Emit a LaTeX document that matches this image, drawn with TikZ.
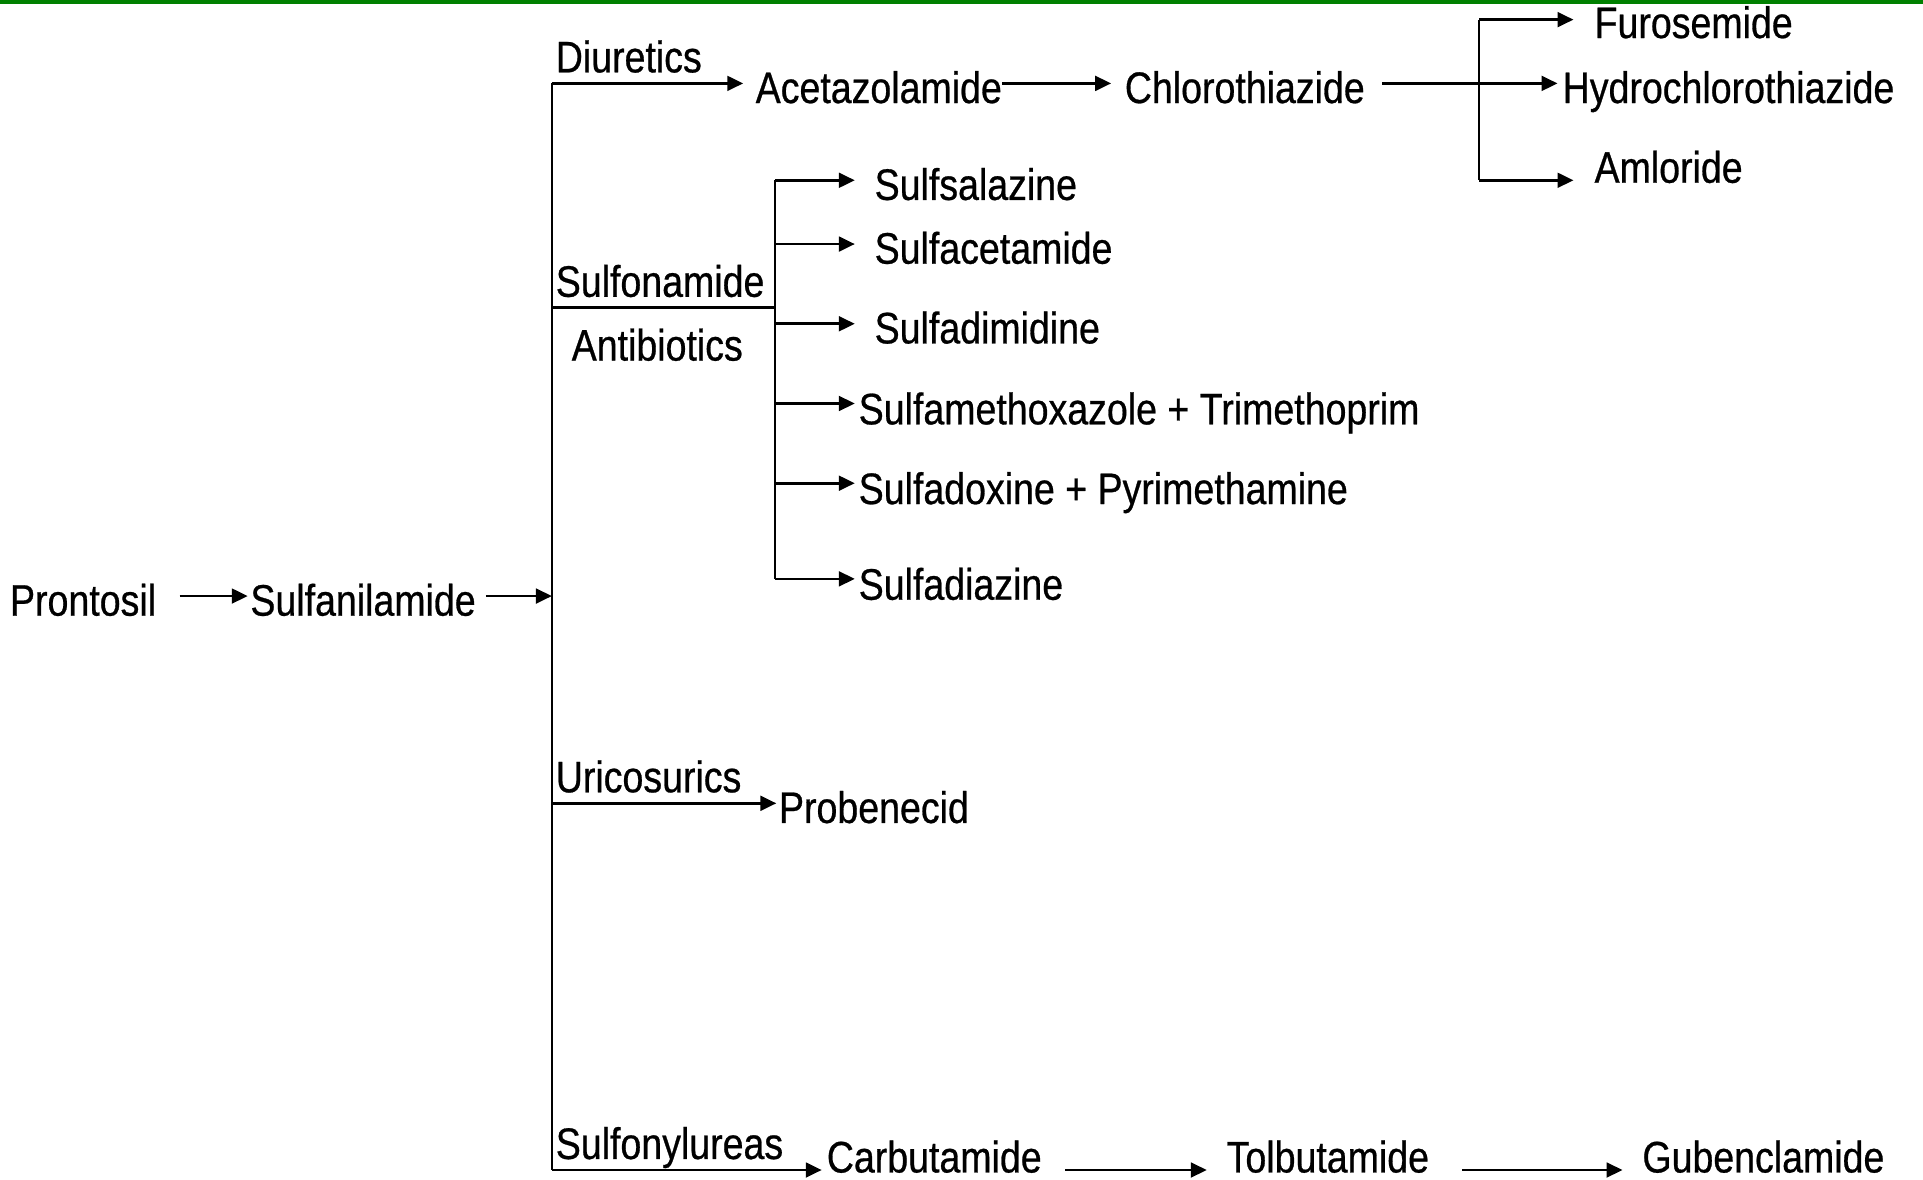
\documentclass[tikz,border=0pt]{standalone}
\usepackage{fontspec}
\setmainfont{Liberation Sans}[FakeStretch=0.85,FakeBold=0.6]
\usetikzlibrary{arrows.meta}
\definecolor{bargreen}{RGB}{0,128,0}
\begin{document}
\begin{tikzpicture}[x=1pt,y=-1pt,
  lbl/.style={inner sep=0pt,anchor=base west,font=\fontsize{36}{40}\selectfont},
  conn/.style={line width=2.2pt},
  arr/.style={conn,-{Triangle[length=13pt,width=12pt]}}]
\useasboundingbox (0,0) rectangle (1568,962);
% rule along the top edge
\fill[bargreen] (0,0) rectangle (1568,3.3);

% drug names
\node[lbl] (pron)   at (8,502)    {Prontosil};
\node[lbl] (sulfan) at (204,502)  {Sulfanilamide};
\node[lbl] (diur)   at (453,59)   {Diuretics};
\node[lbl] (acet)   at (616,84)   {Acetazolamide};
\node[lbl] (chloro) at (917,84)   {Chlorothiazide};
\node[lbl] (furo)   at (1300,31)  {Furosemide};
\node[lbl] (hydro)  at (1274,84)  {Hydrochlorothiazide};
\node[lbl] (amlo)   at (1300,149) {Amloride};
\node[lbl] (sulfo)  at (453,242)  {Sulfonamide};
\node[lbl] (anti)   at (466,294)  {Antibiotics};
\node[lbl] (ssal)   at (713,163)  {Sulfsalazine};
\node[lbl] (sacet)  at (713,215)  {Sulfacetamide};
\node[lbl] (sdim)   at (713,280)  {Sulfadimidine};
\node[lbl] (smx)    at (700,346)  {Sulfamethoxazole + Trimethoprim};
\node[lbl] (sdox)   at (700,411)  {Sulfadoxine + Pyrimethamine};
\node[lbl] (sdiaz)  at (700,489)  {Sulfadiazine};
\node[lbl] (uric)   at (453,646)  {Uricosurics};
\node[lbl] (prob)   at (635,671)  {Probenecid};
\node[lbl] (sfu)    at (453,945)  {Sulfonylureas};
\node[lbl] (carb)   at (674,956)  {Carbutamide};
\node[lbl] (tolb)   at (1000,956) {Tolbutamide};
\node[lbl] (gub)    at (1339,956) {Gubenclamide};

% junctions on the main trunk
\coordinate (jtop) at (450,68);
\coordinate (json) at (450,251);
\coordinate (jin)  at (450,486);
\coordinate (juri) at (450,655);
\coordinate (jbot) at (450,954);
% sulfonamide bracket
\coordinate (b1) at (632,147);
\coordinate (b2) at (632,199);
\coordinate (b3) at (632,264);
\coordinate (b4) at (632,329);
\coordinate (b5) at (632,394);
\coordinate (b6) at (632,472);
\coordinate (bm) at (632,251);
% loop-diuretic fork
\coordinate (cm) at (1206,68);
\coordinate (ct) at (1206,16);
\coordinate (cb) at (1206,147);

% trunk
\draw[conn] (jtop) -- (jbot);
\draw[arr] ([xshift=19pt]pron.east |- jin) -- ([xshift=-2pt]sulfan.west |- jin);
\draw[arr] ([xshift=8pt]sulfan.east |- jin) -- (jin);

% diuretics line
\draw[arr] (jtop) -- ([xshift=-10pt]acet.west |- jtop);
\draw[arr] (acet.east |- jtop) -- ([xshift=-11pt]chloro.west |- jtop);
\draw[arr] ([xshift=14pt]chloro.east |- cm) -- ([xshift=-4pt]hydro.west |- cm);
\draw[conn] (ct) -- (cb);
\draw[arr] (ct) -- ([xshift=-17pt]furo.west |- ct);
\draw[arr] (cb) -- ([xshift=-17pt]amlo.west |- cb);

% sulfonamide antibiotics
\draw[conn] (json) -- (bm);
\draw[conn] (b1) -- (b6);
\draw[arr] (b1) -- ([xshift=-16pt]ssal.west |- b1);
\draw[arr] (b2) -- ([xshift=-16pt]sacet.west |- b2);
\draw[arr] (b3) -- ([xshift=-16pt]sdim.west |- b3);
\draw[arr] (b4) -- ([xshift=-3pt]smx.west |- b4);
\draw[arr] (b5) -- ([xshift=-3pt]sdox.west |- b5);
\draw[arr] (b6) -- ([xshift=-3pt]sdiaz.west |- b6);

% uricosurics
\draw[arr] (juri) -- ([xshift=-2pt]prob.west |- juri);

% sulfonylureas
\draw[arr] (jbot) -- ([xshift=-4pt]carb.west |- jbot);
\draw[arr] ([xshift=19pt]carb.east |- jbot) -- ([xshift=-16pt]tolb.west |- jbot);
\draw[arr] ([xshift=27pt]tolb.east |- jbot) -- ([xshift=-16pt]gub.west |- jbot);
\end{tikzpicture}
\end{document}
